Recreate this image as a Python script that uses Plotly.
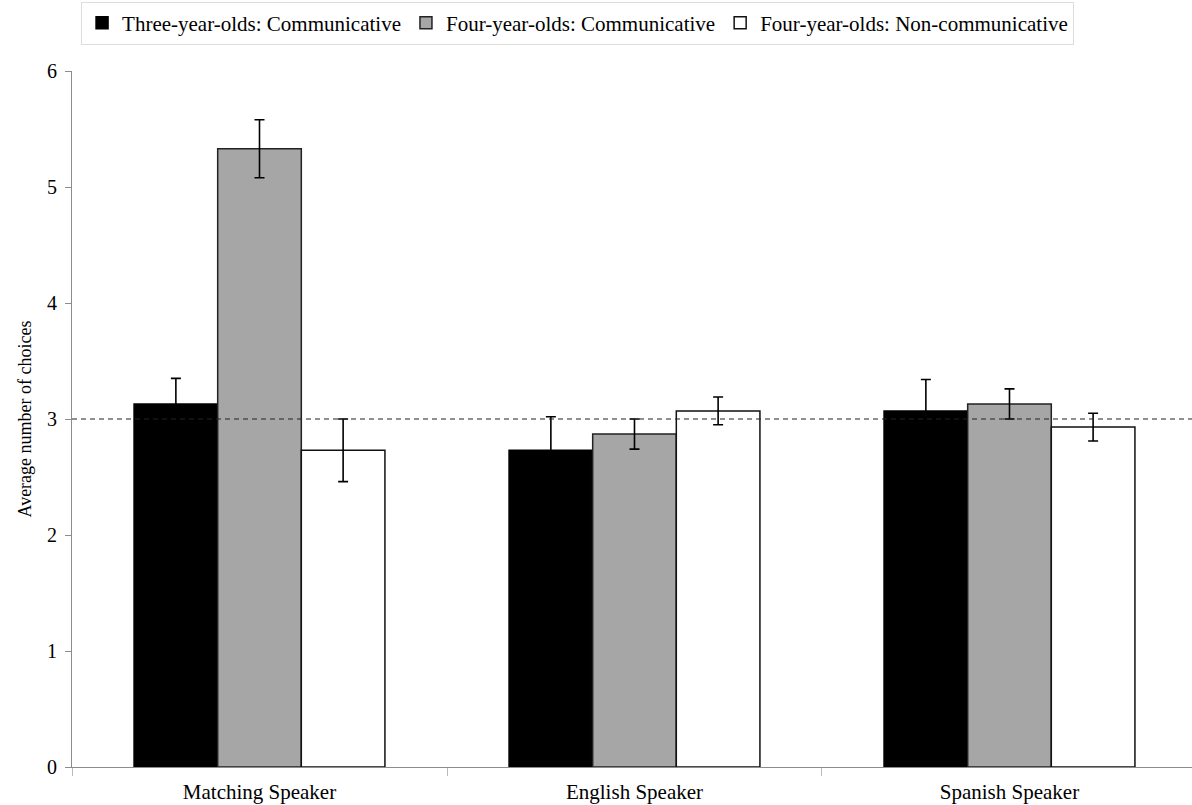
import plotly.graph_objects as go

# Speaker conditions on the x axis
categories = ["Matching Speaker", "English Speaker", "Spanish Speaker"]

# Mean number of choices per group
three_comm = [3.13, 2.73, 3.07]
four_comm = [5.33, 2.87, 3.13]
four_noncomm = [2.73, 3.07, 2.93]

# Standard errors
three_comm_err = [0.22, 0.29, 0.27]
four_comm_err = [0.25, 0.13, 0.13]
four_noncomm_err = [0.27, 0.12, 0.12]

series_names = [
    "Three-year-olds: Communicative",
    "Four-year-olds: Communicative",
    "Four-year-olds: Non-communicative",
]
chance_level = 3

FONT = "Liberation Serif"

series = [
    (series_names[0], three_comm, three_comm_err, "#000000", "#000000"),
    (series_names[1], four_comm, four_comm_err, "#a6a6a6", "#222222"),
    (series_names[2], four_noncomm, four_noncomm_err, "#ffffff", "#111111"),
]

fig = go.Figure()
for name, vals, errs, fill, edge in series:
    fig.add_trace(go.Bar(
        name=name,
        x=categories,
        y=vals,
        marker=dict(color=fill, line=dict(color=edge, width=1.5)),
        error_y=dict(type="data", array=errs, visible=True,
                     color="#000000", thickness=1.6, width=5),
    ))

# Chance reference line
fig.add_shape(type="line", xref="paper", x0=0, x1=1, yref="y",
              y0=chance_level, y1=chance_level,
              line=dict(color="#222222", width=1.1, dash="5px,4px"))

fig.update_layout(
    width=1192, height=805,
    paper_bgcolor="white", plot_bgcolor="white",
    margin=dict(l=72, r=0, t=71, b=38),
    barmode="group", bargap=0.331, bargroupgap=0,
    font=dict(family=FONT, color="#000000", size=21),
    legend=dict(
        orientation="h",
        xref="container", yref="container",
        x=0.068, y=0.998, xanchor="left", yanchor="top",
        bordercolor="#dddddd", borderwidth=1,
        font=dict(family=FONT, size=21),
        itemwidth=30, tracegroupgap=0,
        traceorder="normal",
    ),
    showlegend=True,
)

fig.update_yaxes(
    range=[0, 6], dtick=1, showgrid=False, zeroline=False,
    showline=True, linecolor="#8c8c8c", linewidth=1,
    ticks="outside", ticklen=6, tickcolor="#8c8c8c",
    ticklabelstandoff=4,
    tickfont=dict(family=FONT, size=20),
    title=dict(text="Average number of choices",
               font=dict(family=FONT, size=18), standoff=10),
)
fig.update_xaxes(
    range=[-0.5, 2.4867], showgrid=False, zeroline=False,
    showline=True, linecolor="#8c8c8c", linewidth=1,
    ticks="outside", tickson="boundaries", ticklen=8, tickcolor="#bbbbbb",
    ticklabelstandoff=6,
    tickfont=dict(family=FONT, size=21),
)

fig.write_html("out.html")
